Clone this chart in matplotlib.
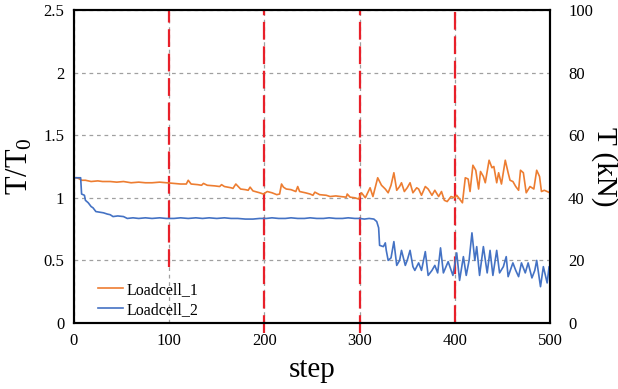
import matplotlib
matplotlib.use("Agg")
import matplotlib.pyplot as plt

# Loadcell_1 (orange), T/T0 vs step
lc1_step = [0, 3, 6, 8, 12, 18, 25, 30, 38, 45,
            52, 60, 68, 75, 82, 90, 97, 105, 112, 118,
            120, 123, 130, 134, 136, 140, 148, 153, 155, 158,
            165, 167, 170, 175, 180, 183, 185, 188, 195, 199,
            203, 208, 213, 216, 218, 220, 223, 228, 233, 235,
            237, 243, 248, 251, 253, 258, 265, 269, 275, 280,
            286, 287, 290, 295, 299, 302, 306, 311, 314, 319,
            323, 327, 330, 333, 336, 339, 342, 344, 347, 350,
            353, 356, 360, 362, 365, 369, 372, 376, 379, 383,
            386, 389, 392, 396, 400, 402, 405, 408, 411, 414,
            416, 419, 422, 425, 427, 430, 432, 436, 439, 441,
            444, 446, 449, 453, 456, 458, 461, 464, 467, 469,
            472, 475, 479, 483, 486, 489, 491, 494, 497, 500]
lc1_val = [1.16, 1.16, 1.15, 1.14, 1.14, 1.13, 1.135, 1.13, 1.13, 1.125,
           1.13, 1.12, 1.125, 1.12, 1.12, 1.125, 1.12, 1.115, 1.11, 1.11,
           1.14, 1.11, 1.105, 1.10, 1.115, 1.10, 1.095, 1.09, 1.105, 1.09,
           1.08, 1.075, 1.11, 1.07, 1.065, 1.06, 1.085, 1.055, 1.04, 1.03,
           1.05, 1.04, 1.025, 1.03, 1.11, 1.085, 1.07, 1.065, 1.05, 1.09,
           1.05, 1.04, 1.03, 1.02, 1.045, 1.025, 1.02, 1.01, 1.015, 1.01,
           1.005, 1.03, 1.005, 1.0, 0.99, 1.04, 1.0, 1.08, 1.01, 1.16,
           1.10, 1.07, 1.04, 1.10, 1.20, 1.06, 1.09, 1.12, 1.05, 1.08,
           1.12, 1.04, 1.08, 1.07, 1.02, 1.09, 1.07, 1.02, 1.06, 1.01,
           1.05, 0.98, 0.97, 1.01, 1.00, 1.02, 0.99, 0.96, 1.16, 1.15,
           1.05, 1.26, 1.22, 1.07, 1.21, 1.17, 1.12, 1.30, 1.24, 1.25,
           1.12, 1.20, 1.11, 1.30, 1.20, 1.14, 1.13, 1.09, 1.06, 1.22,
           1.20, 1.04, 1.09, 1.07, 1.22, 1.17, 1.05, 1.06, 1.05, 1.04]

# Loadcell_2 (blue)
lc2_step = [0, 4, 7, 8, 11, 12, 15, 18, 20, 23,
            27, 31, 35, 38, 41, 46, 52, 56, 62, 68,
            75, 82, 90, 97, 105, 112, 120, 128, 135, 142,
            150, 158, 165, 172, 180, 188, 195, 202, 208, 215,
            222, 228, 235, 242, 248, 255, 262, 268, 275, 282,
            288, 295, 300, 305, 310, 315, 318, 320, 321, 325,
            327, 328, 330, 333, 336, 339, 342, 344, 348, 350,
            353, 356, 358, 362, 365, 369, 372, 376, 379, 382,
            385, 388, 393, 398, 402, 405, 409, 412, 415, 418,
            421, 423, 426, 430, 434, 437, 440, 444, 447, 451,
            454, 456, 461, 464, 467, 470, 474, 477, 481, 484,
            486, 490, 493, 497, 499, 500]
lc2_val = [1.16, 1.16, 1.16, 1.03, 1.02, 0.98, 0.96, 0.93, 0.92, 0.89,
           0.885, 0.88, 0.87, 0.865, 0.85, 0.855, 0.85, 0.835, 0.84, 0.835,
           0.84, 0.835, 0.84, 0.835, 0.835, 0.84, 0.835, 0.84, 0.835, 0.84,
           0.835, 0.84, 0.835, 0.835, 0.83, 0.83, 0.835, 0.835, 0.84, 0.835,
           0.835, 0.84, 0.835, 0.835, 0.84, 0.835, 0.835, 0.84, 0.835, 0.835,
           0.84, 0.835, 0.835, 0.83, 0.835, 0.83, 0.81, 0.76, 0.62, 0.61,
           0.64, 0.58, 0.50, 0.52, 0.65, 0.46, 0.50, 0.58, 0.46, 0.50,
           0.58, 0.45, 0.42, 0.48, 0.42, 0.57, 0.38, 0.42, 0.46, 0.40,
           0.60, 0.40, 0.49, 0.38, 0.56, 0.34, 0.53, 0.38, 0.50, 0.72,
           0.50, 0.61, 0.38, 0.61, 0.40, 0.58, 0.38, 0.58, 0.40, 0.45,
           0.53, 0.37, 0.48, 0.42, 0.37, 0.48, 0.40, 0.48, 0.36, 0.42,
           0.50, 0.29, 0.45, 0.32, 0.45, 0.40]

stage_steps = [100, 200, 300, 400]
left_ticks = [0, 0.5, 1, 1.5, 2, 2.5]
left_labels = ["0", "0.5", "1", "1.5", "2", "2.5"]
right_ticks = [0, 20, 40, 60, 80, 100]
x_ticks = [0, 100, 200, 300, 400, 500]

plt.rcParams['font.family'] = ['Liberation Serif', 'DejaVu Serif']
plt.rcParams['mathtext.fontset'] = 'custom'
plt.rcParams['mathtext.rm'] = 'Liberation Serif'
plt.rcParams['mathtext.it'] = 'Liberation Serif'

fig = plt.figure(figsize=(6.18, 3.89), dpi=100)
ax = fig.add_axes([0.1197, 0.1697, 0.7703, 0.8046])

ax.set_xlim(0, 500)
ax.set_ylim(0, 2.5)
ax.grid(True, axis='both', color='#a0a0a0', linestyle=(0, (3, 3)), linewidth=0.9)
ax.set_axisbelow(True)

# stage boundaries
red_dash = dict(color='#e8202a', linestyle=(0, (8, 3)), linewidth=1.6, zorder=2)
ax.plot([stage_steps[0]] * 2, [0.45, 2.5], **red_dash)
for s in stage_steps[1:3]:
    ax.plot([s, s], [-0.08, 2.5], clip_on=False, **red_dash)
ax.plot([stage_steps[3]] * 2, [0, 2.5], **red_dash)

ax.plot(lc1_step, lc1_val, color='#ED7D31', linewidth=1.2, label='Loadcell_1', zorder=3)
ax.plot(lc2_step, lc2_val, color='#4472C4', linewidth=1.2, label='Loadcell_2', zorder=3)

ax.set_xticks(x_ticks)
ax.set_yticks(left_ticks)
ax.set_yticklabels(left_labels)
ax.tick_params(axis='both', length=0, labelsize=12)
ax.tick_params(axis='y', pad=7)
ax.tick_params(axis='x', pad=7)
for sp in ax.spines.values():
    sp.set_linewidth(1.5)
    sp.set_color('black')

ax.set_xlabel('step', fontsize=21, labelpad=6)
ax.set_ylabel('T/T$_0$', fontsize=22, labelpad=6)

ax2 = ax.twinx()
ax2.set_ylim(0, 100)
ax2.set_yticks(right_ticks)
ax2.tick_params(axis='y', length=0, labelsize=12, pad=13)
ax2.set_ylabel('T (kN)', fontsize=21, rotation=270, labelpad=18)
for sp in ax2.spines.values():
    sp.set_linewidth(1.5)

ax.legend(loc='lower left', bbox_to_anchor=(0.02, -0.03), frameon=False, fontsize=11.5,
          handlelength=1.6, handletextpad=0.2, labelspacing=0.25)

fig.savefig('out.png', dpi=100)
